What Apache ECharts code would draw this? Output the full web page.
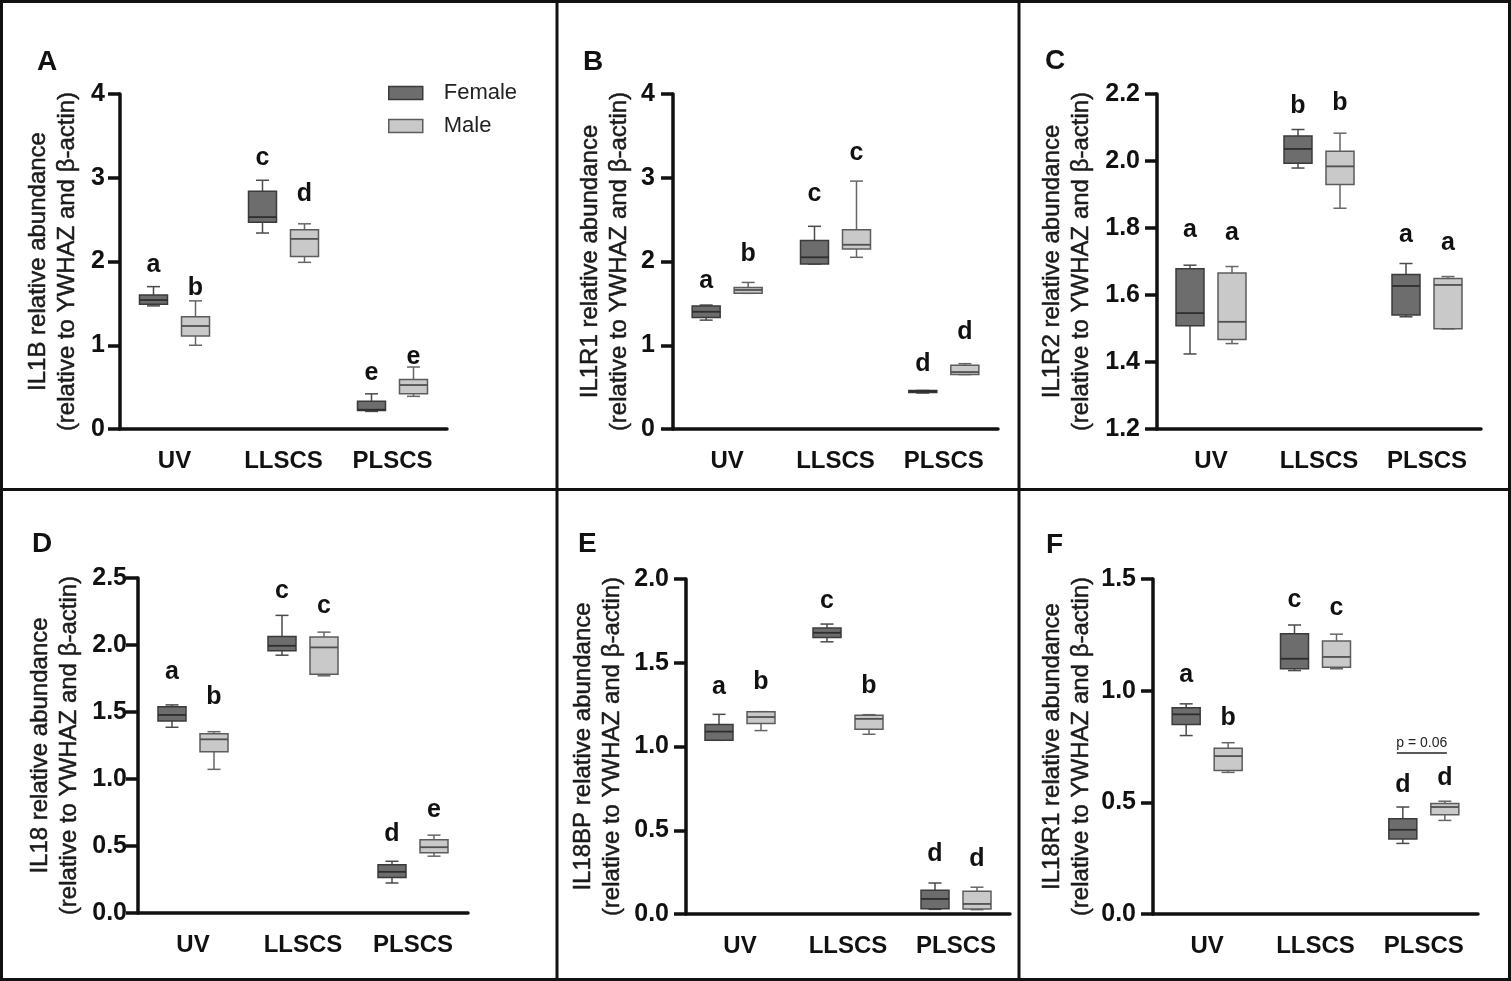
<!DOCTYPE html>
<html>
<head>
<meta charset="utf-8">
<script src="https://cdn.jsdelivr.net/npm/echarts@6/dist/echarts.min.js"></script>
<style>
  html, body { margin: 0; padding: 0; background: #fff; }
  #main { width: 1511px; height: 981px; }
</style>
</head>
<body>
<div id="main"></div>
<script>
// groups on the x axis
const groups = ['UV', 'LLSCS', 'PLSCS'];

// each box: [min, Q1, median, Q3, max], one per group
const il1bFemale = [[1.47, 1.49, 1.54, 1.60, 1.70], [2.34, 2.47, 2.53, 2.84, 2.97], [0.21, 0.22, 0.23, 0.33, 0.42]];
const il1bMale = [[1.00, 1.11, 1.23, 1.34, 1.53], [1.99, 2.06, 2.27, 2.38, 2.45], [0.39, 0.42, 0.525, 0.59, 0.74]];
const il1r1Female = [[1.30, 1.33, 1.40, 1.47, 1.48], [1.97, 1.97, 2.05, 2.25, 2.42], [0.43, 0.435, 0.45, 0.46, 0.46]];
const il1r1Male = [[1.62, 1.62, 1.66, 1.69, 1.75], [2.05, 2.15, 2.20, 2.38, 2.96], [0.65, 0.65, 0.68, 0.76, 0.78]];
const il1r2Female = [[1.424, 1.508, 1.546, 1.678, 1.689], [1.979, 1.993, 2.036, 2.075, 2.094], [1.535, 1.540, 1.627, 1.661, 1.694]];
const il1r2Male = [[1.455, 1.467, 1.52, 1.666, 1.685], [1.859, 1.930, 1.984, 2.029, 2.083], [1.499, 1.499, 1.63, 1.649, 1.655]];
const il18Female = [[1.386, 1.433, 1.478, 1.540, 1.553], [1.924, 1.957, 1.994, 2.064, 2.221], [0.224, 0.264, 0.307, 0.361, 0.386]];
const il18Male = [[1.072, 1.204, 1.296, 1.338, 1.353], [1.770, 1.782, 1.982, 2.059, 2.096], [0.424, 0.449, 0.491, 0.546, 0.581]];
const il18bpFemale = [[1.037, 1.037, 1.089, 1.131, 1.192], [1.625, 1.651, 1.679, 1.707, 1.731], [0.028, 0.032, 0.090, 0.142, 0.185]];
const il18bpMale = [[1.095, 1.137, 1.176, 1.208, 1.208], [1.073, 1.103, 1.165, 1.186, 1.190], [0.026, 0.030, 0.060, 0.136, 0.160]];
const il18r1Female = [[0.799, 0.848, 0.894, 0.924, 0.941], [1.090, 1.098, 1.143, 1.255, 1.294], [0.316, 0.336, 0.377, 0.426, 0.479]];
const il18r1Male = [[0.634, 0.642, 0.707, 0.742, 0.767], [1.098, 1.105, 1.151, 1.222, 1.253], [0.419, 0.444, 0.479, 0.495, 0.505]];

// significance letters and the height they sit at
const il1bLetF = ['a', 'c', 'e'], il1bLetFY = [1.96, 3.24, 0.67];
const il1bLetM = ['b', 'd', 'e'], il1bLetMY = [1.68, 2.80, 0.86];
const il1r1LetF = ['a', 'c', 'd'], il1r1LetFY = [1.76, 2.81, 0.78];
const il1r1LetM = ['b', 'c', 'd'], il1r1LetMY = [2.09, 3.29, 1.16];
const il1r2LetF = ['a', 'b', 'a'], il1r2LetFY = [1.795, 2.163, 1.78];
const il1r2LetM = ['a', 'b', 'a'], il1r2LetMY = [1.785, 2.173, 1.755];
const il18LetF = ['a', 'c', 'd'], il18LetFY = [1.80, 2.40, 0.586];
const il18LetM = ['b', 'c', 'e'], il18LetMY = [1.61, 2.29, 0.765];
const il18bpLetF = ['a', 'c', 'd'], il18bpLetFY = [1.352, 1.870, 0.355];
const il18bpLetM = ['b', 'b', 'd'], il18bpLetMY = [1.382, 1.358, 0.325];
const il18r1LetF = ['a', 'c', 'd'], il18r1LetFY = [1.068, 1.404, 0.577];
const il18r1LetM = ['b', 'c', 'd'], il18r1LetMY = [0.879, 1.370, 0.610];

// y tick labels per panel
const ticksA = ['0', '1', '2', '3', '4'];
const ticksB = ['0', '1', '2', '3', '4'];
const ticksC = ['1.2', '1.4', '1.6', '1.8', '2.0', '2.2'];
const ticksD = ['0.0', '0.5', '1.0', '1.5', '2.0', '2.5'];
const ticksE = ['0.0', '0.5', '1.0', '1.5', '2.0'];
const ticksF = ['0.0', '0.5', '1.0', '1.5'];

// p value note in panel F (PLSCS)
const pNote = 'p = 0.06';
const pNoteY = 0.721;

const FONT = '"Liberation Sans", Arial, Helvetica, sans-serif';
const BOX_W = 28, CAP_W = 13, SHIFT = 21;
const lookF = { fill: '#6d6d6d', stroke: '#3b3b3b', median: '#2e2e2e', whisker: '#4a4a4a' };
const lookM = { fill: '#c9c9c9', stroke: '#5c5c5c', median: '#505050', whisker: '#666666' };

const panels = [
  { tag: 'A', gene: 'IL1B', f: il1bFemale, m: il1bMale, lf: il1bLetF, lfy: il1bLetFY, lm: il1bLetM, lmy: il1bLetMY, ticks: ticksA,
    grid: { left: 120, top: 94, width: 327, height: 335 }, gap: 38, margin: 15, tagPos: [47, 62] },
  { tag: 'B', gene: 'IL1R1', f: il1r1Female, m: il1r1Male, lf: il1r1LetF, lfy: il1r1LetFY, lm: il1r1LetM, lmy: il1r1LetMY, ticks: ticksB,
    grid: { left: 673, top: 94, width: 325, height: 335 }, gap: 39, margin: 18, tagPos: [593, 62] },
  { tag: 'C', gene: 'IL1R2', f: il1r2Female, m: il1r2Male, lf: il1r2LetF, lfy: il1r2LetFY, lm: il1r2LetM, lmy: il1r2LetMY, ticks: ticksC,
    grid: { left: 1157, top: 94, width: 324, height: 335 }, gap: 61, margin: 17, tagPos: [1055, 61] },
  { tag: 'D', gene: 'IL18', f: il18Female, m: il18Male, lf: il18LetF, lfy: il18LetFY, lm: il18LetM, lmy: il18LetMY, ticks: ticksD,
    grid: { left: 138, top: 578, width: 330, height: 335 }, gap: 54, margin: 11, tagPos: [42, 544] },
  { tag: 'E', gene: 'IL18BP', f: il18bpFemale, m: il18bpMale, lf: il18bpLetF, lfy: il18bpLetFY, lm: il18bpLetM, lmy: il18bpLetMY, ticks: ticksE,
    grid: { left: 686, top: 579, width: 324, height: 335 }, gap: 59, margin: 17, tagPos: [588, 544] },
  { tag: 'F', gene: 'IL18R1', f: il18r1Female, m: il18r1Male, lf: il18r1LetF, lfy: il18r1LetFY, lm: il18r1LetM, lmy: il18r1LetMY, ticks: ticksF,
    grid: { left: 1153, top: 579, width: 325, height: 335 }, gap: 57, margin: 17, tagPos: [1056, 545] }
];

// one box + whiskers + letter, drawn through the axes
function boxRenderer(shift, look, letters) {
  return function (params, api) {
    const cat = api.value(0);
    const py = i => api.coord([cat, api.value(i)])[1];
    const x = api.coord([cat, api.value(3)])[0] + shift;
    const yMin = py(1), yQ1 = py(2), yMed = py(3), yQ3 = py(4), yMax = py(5), yTxt = py(6);
    const half = BOX_W / 2, cap = CAP_W / 2;
    const line = (x1, y1, x2, y2, stroke, w) => ({
      type: 'line', shape: { x1: x1, y1: y1, x2: x2, y2: y2 }, style: { stroke: stroke, lineWidth: w || 1.5 }
    });
    return {
      type: 'group',
      children: [
        line(x, yMax, x, yQ3, look.whisker),
        line(x, yQ1, x, yMin, look.whisker),
        line(x - cap, yMax, x + cap, yMax, look.whisker),
        line(x - cap, yMin, x + cap, yMin, look.whisker),
        { type: 'rect', shape: { x: x - half, y: yQ3, width: BOX_W, height: Math.max(yQ1 - yQ3, 1.5) },
          style: { fill: look.fill, stroke: look.stroke, lineWidth: 1.5 } },
        line(x - half, yMed, x + half, yMed, look.median, 1.8),
        { type: 'text', style: { text: letters[params.dataIndex], x: x, y: yTxt, align: 'center', verticalAlign: 'middle',
          font: 'bold 25px ' + FONT, fill: '#111' } }
      ]
    };
  };
}

function rows(boxes, letterY) {
  return boxes.map((b, i) => [i].concat(b, [letterY[i]]));
}

const grids = [], xAxes = [], yAxes = [], series = [], graphics = [];

panels.forEach((p, k) => {
  grids.push(p.grid);
  xAxes.push({
    type: 'category', gridIndex: k, data: groups,
    axisLine: { lineStyle: { color: '#111', width: 3.5 } },
    axisTick: { alignWithLabel: true, length: 14, lineStyle: { color: '#111', width: 3.5 } },
    axisLabel: { fontSize: 24, fontWeight: 'bold', fontFamily: FONT, color: '#111', margin: 20 },
    splitLine: { show: false }
  });
  const lo = +p.ticks[0], hi = +p.ticks[p.ticks.length - 1];
  const step = +(p.ticks[1] - p.ticks[0]).toFixed(4);
  yAxes.push({
    type: 'value', gridIndex: k, min: lo, max: hi, interval: step,
    name: p.gene + ' relative abundance\n(relative to YWHAZ and β-actin)',
    nameLocation: 'middle', nameRotate: 90, nameGap: p.gap,
    nameTextStyle: { fontSize: 24, lineHeight: 29, fontFamily: FONT, color: '#1a1a1a',
      textBorderColor: '#1a1a1a', textBorderWidth: 0.5 },
    axisLine: { show: true, lineStyle: { color: '#111', width: 3.5 } },
    axisTick: { show: true, length: 12, lineStyle: { color: '#111', width: 3.5 } },
    axisLabel: {
      fontSize: 25, fontWeight: 'bold', fontFamily: FONT, color: '#111', margin: p.margin,
      formatter: v => {
        const hit = p.ticks.find(t => Math.abs(+t - v) < 1e-6);
        return hit === undefined ? '' : hit;
      }
    },
    splitLine: { show: false }
  });
  series.push({
    name: 'Female', type: 'custom', xAxisIndex: k, yAxisIndex: k,
    itemStyle: { color: lookF.fill, borderColor: lookF.stroke },
    renderItem: boxRenderer(-SHIFT, lookF, p.lf),
    encode: { x: 0, y: [1, 2, 3, 4, 5, 6] },
    data: rows(p.f, p.lfy)
  });
  series.push({
    name: 'Male', type: 'custom', xAxisIndex: k, yAxisIndex: k,
    itemStyle: { color: lookM.fill, borderColor: lookM.stroke },
    renderItem: boxRenderer(SHIFT, lookM, p.lm),
    encode: { x: 0, y: [1, 2, 3, 4, 5, 6] },
    data: rows(p.m, p.lmy)
  });
  graphics.push({
    type: 'text', left: p.tagPos[0] - 10, top: p.tagPos[1] - 14,
    style: { text: p.tag, font: 'bold 28px ' + FONT, fill: '#111' }
  });
});

// p value bar over PLSCS in panel F
series.push({
  name: 'pnote', type: 'custom', xAxisIndex: 5, yAxisIndex: 5,
  renderItem: function (params, api) {
    const c = api.coord([api.value(0), api.value(1)]);
    return {
      type: 'group',
      children: [
        { type: 'line', shape: { x1: c[0] - 27, y1: c[1], x2: c[0] + 23, y2: c[1] }, style: { stroke: '#222', lineWidth: 1.5 } },
        { type: 'text', style: { text: pNote, x: c[0] - 2, y: c[1] - 3, align: 'center', verticalAlign: 'bottom',
          font: '14px ' + FONT, fill: '#222' } }
      ]
    };
  },
  encode: { x: 0, y: 1 },
  data: [[2, pNoteY]]
});

// panel frame
const frame = '#111';
graphics.push(
  { type: 'rect', shape: { x: 1.5, y: 1.5, width: 1508, height: 978 }, style: { fill: null, stroke: frame, lineWidth: 3 } },
  { type: 'line', shape: { x1: 0, y1: 489.5, x2: 1511, y2: 489.5 }, style: { stroke: frame, lineWidth: 3 } },
  { type: 'line', shape: { x1: 557, y1: 0, x2: 557, y2: 981 }, style: { stroke: frame, lineWidth: 3 } },
  { type: 'line', shape: { x1: 1019, y1: 0, x2: 1019, y2: 981 }, style: { stroke: frame, lineWidth: 3 } }
);

const myChart = echarts.init(document.getElementById('main'));
myChart.setOption({
  backgroundColor: '#fff',
  animation: false,
  legend: {
    data: [
      { name: 'Female', itemStyle: { color: lookF.fill, borderColor: lookF.stroke, borderWidth: 1.5 } },
      { name: 'Male', itemStyle: { color: lookM.fill, borderColor: lookM.stroke, borderWidth: 1.5 } }
    ],
    left: 388, top: 82, orient: 'vertical', icon: 'rect',
    itemWidth: 34, itemHeight: 13, itemGap: 11, padding: 0, selectedMode: false,
    textStyle: { fontSize: 22, fontFamily: FONT, color: '#222', padding: [0, 0, 0, 16] }
  },
  grid: grids,
  xAxis: xAxes,
  yAxis: yAxes,
  series: series,
  graphic: graphics
});
</script>
</body>
</html>
